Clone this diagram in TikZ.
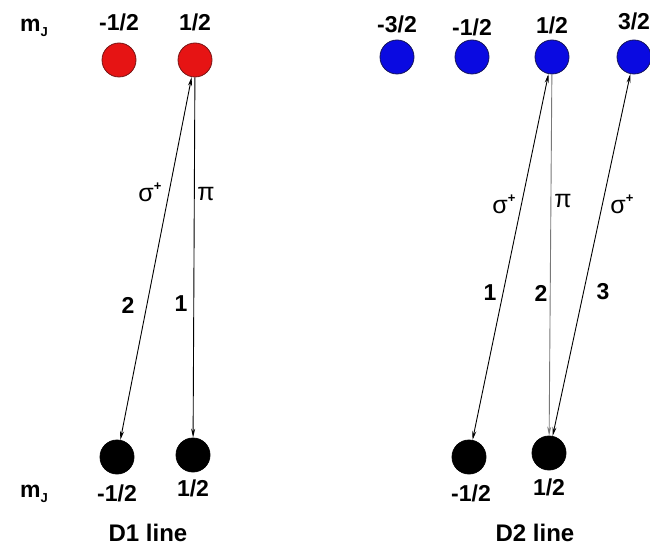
\documentclass[tikz,border=0pt]{standalone}
\usepackage{fontspec}
\setmainfont{Liberation Sans}
\usetikzlibrary{arrows.meta}
\definecolor{redfill}{RGB}{230,20,20}
\definecolor{redline}{RGB}{120,20,20}
\definecolor{bluefill}{RGB}{10,10,225}
\definecolor{blueline}{RGB}{20,20,90}
\definecolor{pigray}{RGB}{120,120,120}
\tikzset{
  lvl/.style={circle,minimum size=34pt,inner sep=0pt,line width=0.8pt},
  redlvl/.style={lvl,fill=redfill,draw=redline},
  bluelvl/.style={lvl,fill=bluefill,draw=blueline},
  blacklvl/.style={lvl,fill=black,draw=black},
  mlab/.style={font=\fontsize{23}{23}\selectfont\bfseries,inner sep=0pt},
  numlab/.style={font=\fontsize{23}{23}\selectfont\bfseries,inner sep=0pt},
  greek/.style={font=\fontsize{25}{25}\selectfont,inner sep=0pt},
  title/.style={font=\fontsize{24}{24}\selectfont\bfseries,inner sep=0pt,anchor=base},
  tip/.style={-{Stealth[length=9pt,width=4pt]}},
  dtip/.style={{Stealth[length=9pt,width=4pt]}-{Stealth[length=9pt,width=4pt]}},
  trans/.style={line width=0.9pt,black},
}
\newcommand{\sigp}{σ\raisebox{11pt}{\fontsize{13}{13}\selectfont\bfseries +}}
\newcommand{\mJ}{m\raisebox{-5pt}{\fontsize{13}{13}\selectfont J}}
\begin{document}
\begin{tikzpicture}[x=1pt,y=-1pt]
\useasboundingbox (0,0) rectangle (650,545);
% m_J labels
\node[mlab,anchor=base west] (mjtop) at (20,32) {\mJ};
\node[mlab,anchor=base west] (mjbot) at (20,497) {\mJ};
% D1 upper
\node[redlvl] (r1) at (119,60) {};
\node[redlvl] (r2) at (195,60) {};
\node[mlab] (lr1) at (119,22) {-1/2};
\node[mlab] (lr2) at (195,22) {1/2};
% D1 lower
\node[blacklvl] (g1) at (117,457) {};
\node[blacklvl] (g2) at (193,455) {};
\node[mlab] (lg1) at (117,493) {-1/2};
\node[mlab] (lg2) at (193,488) {1/2};
% D2 upper
\node[bluelvl] (b1) at (397,57) {};
\node[bluelvl] (b2) at (472,57) {};
\node[bluelvl] (b3) at (552,57) {};
\node[bluelvl] (b4) at (634,57) {};
\node[mlab] (lb1) at (397,24) {-3/2};
\node[mlab] (lb2) at (472,27) {-1/2};
\node[mlab] (lb3) at (552,25) {1/2};
\node[mlab] (lb4) at (634,21) {3/2};
% D2 lower
\node[blacklvl] (h1) at (469,457) {};
\node[blacklvl] (h2) at (549,453) {};
\node[mlab] (lh1) at (471,493) {-1/2};
\node[mlab] (lh2) at (549,487) {1/2};
% D1 transitions
\draw[trans,dtip] (r2) -- (g1);
\draw[trans,tip] (r2) -- (g2);
\node[greek] (s1) at (150,192) {\sigp};
\node[greek] (p1) at (206,194) {π};
\node[numlab] (n2) at (128,305) {2};
\node[numlab] (n1) at (181,304) {1};
% D2 transitions
\draw[trans,dtip] (b3) -- (h1);
\draw[trans,tip,pigray] (b3) -- (h2);
\draw[trans,dtip] (b4) -- (h2);
\node[greek] (s2) at (504,204) {\sigp};
\node[greek] (p2) at (563,201) {π};
\node[greek] (s3) at (622,204) {\sigp};
\node[numlab] (m1) at (490,293) {1};
\node[numlab] (m2) at (541,293) {2};
\node[numlab] (m3) at (603,292) {3};
% titles
\node[title] (t1) at (148,541) {D1 line};
\node[title] (t2) at (535,541) {D2 line};
\end{tikzpicture}
\end{document}
